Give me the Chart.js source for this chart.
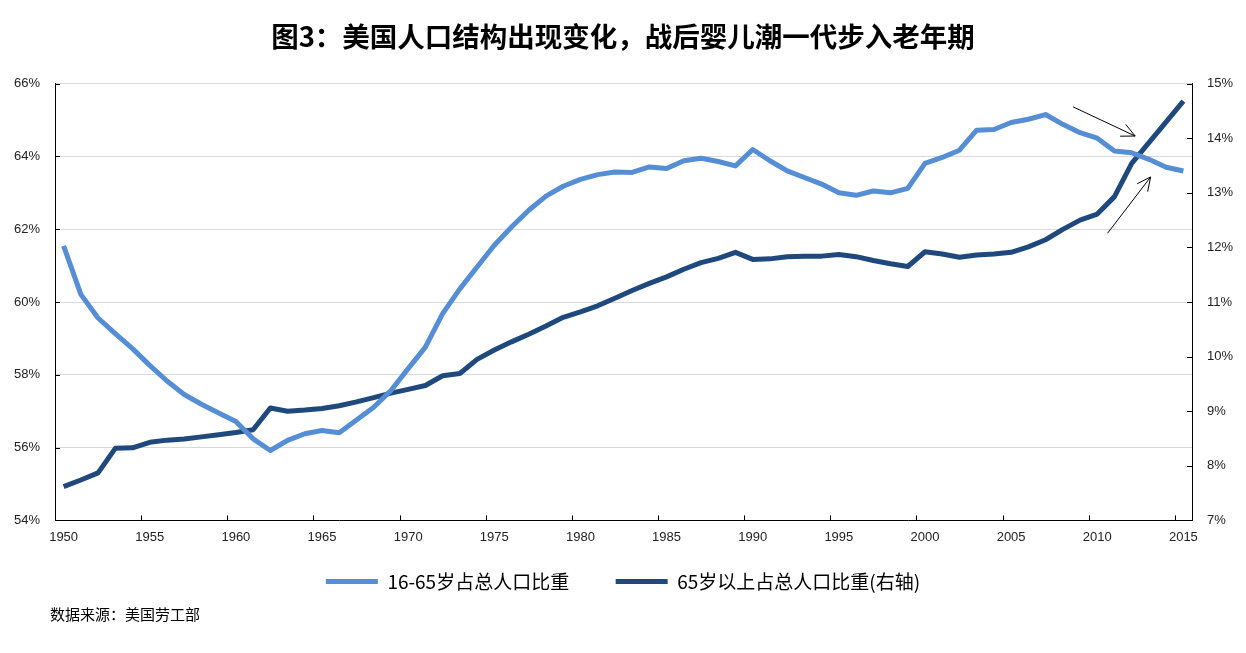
<!DOCTYPE html>
<html>
<head>
<meta charset="utf-8">
<script src="https://cdn.jsdelivr.net/npm/chart.js@4.4.1/dist/chart.umd.min.js"></script>
<style>
  html, body { margin: 0; padding: 0; background: #fff; }
  #wrap { width: 1246px; height: 653px; position: relative; }
</style>
</head>
<body>
<div id="wrap"><canvas id="popChart" width="1246" height="653"></canvas></div>
<script>
// Năm 1950 - 2015 (danh mục trục X)
const years = [];
for (let y = 1950; y <= 2015; y++) years.push(String(y));

// 16-65岁占总人口比重 (%), trục trái
const workingAge = [
  61.54, 60.21, 59.56, 59.13, 58.72, 58.26, 57.83, 57.46, 57.19, 56.95,
  56.72, 56.24, 55.92, 56.20, 56.38, 56.47, 56.41, 56.76, 57.11, 57.57,
  58.17, 58.76, 59.68, 60.36, 60.96, 61.56, 62.06, 62.52, 62.91, 63.18,
  63.37, 63.50, 63.57, 63.56, 63.71, 63.67, 63.88, 63.95, 63.86, 63.74,
  64.19, 63.88, 63.60, 63.42, 63.24, 63.00, 62.93, 63.05, 63.00, 63.12,
  63.81, 63.97, 64.17, 64.72, 64.74, 64.93, 65.02, 65.15, 64.88, 64.65,
  64.50, 64.15, 64.10, 63.92, 63.70, 63.60
];

// 65岁以上占总人口比重 (%), trục phải
const elderly = [
  7.62, 7.74, 7.87, 8.32, 8.33, 8.43, 8.47, 8.49, 8.53, 8.57,
  8.61, 8.66, 9.06, 9.00, 9.02, 9.05, 9.10, 9.17, 9.25, 9.33,
  9.40, 9.47, 9.65, 9.69, 9.95, 10.12, 10.27, 10.41, 10.56, 10.72,
  10.82, 10.93, 11.07, 11.21, 11.34, 11.46, 11.60, 11.72, 11.80, 11.91,
  11.78, 11.79, 11.83, 11.84, 11.84, 11.87, 11.83, 11.76, 11.70, 11.65,
  11.92, 11.88, 11.82, 11.86, 11.88, 11.91, 12.01, 12.14, 12.33, 12.50,
  12.61, 12.93, 13.54, 13.92, 14.30, 14.68
];

const seriesNames = ["16-65岁占总人口比重", "65岁以上占总人口比重(右轴)"];
const titleText = "图3：美国人口结构出现变化，战后婴儿潮一代步入老年期";
const sourceText = "数据来源：美国劳工部";

// Mũi tên chú thích: [năm, giá trị] theo trục tương ứng
const arrows = [
  { from: [2008.6, 65.36], to: [2012.2, 64.56], axis: "yL" },
  { from: [2010.6, 12.26], to: [2013.1, 13.29], axis: "yR" },
];

const lightBlue = "#558ED5";
const darkBlue = "#1F497D";
const tickFont = { family: "'Liberation Sans', Arial, sans-serif", size: 13 };
const cjkFont = "'Noto Sans CJK SC', 'Noto Sans', sans-serif";

// Plugin vẽ vạch chia hướng vào trong, mũi tên và dòng nguồn dữ liệu
const extrasPlugin = {
  id: "extras",
  afterDatasetsDraw(chart) {
    const { ctx, chartArea, scales } = chart;
    const len = 5;
    ctx.save();
    ctx.strokeStyle = "#000";
    ctx.lineWidth = 1;
    ctx.beginPath();
    scales.yL.ticks.forEach((t) => {
      const y = Math.round(scales.yL.getPixelForValue(t.value)) + 0.5;
      ctx.moveTo(chartArea.left, y);
      ctx.lineTo(chartArea.left + len, y);
    });
    scales.yR.ticks.forEach((t) => {
      const y = Math.round(scales.yR.getPixelForValue(t.value)) + 0.5;
      ctx.moveTo(chartArea.right, y);
      ctx.lineTo(chartArea.right - len, y);
    });
    for (let i = 5; i < years.length; i += 5) {
      const x = Math.round(scales.x.getPixelForValue(i - 0.5)) + 0.5;
      ctx.moveTo(x, chartArea.bottom);
      ctx.lineTo(x, chartArea.bottom - len);
    }
    ctx.stroke();

    // mũi tên
    arrows.forEach((a) => {
      const ys = scales[a.axis];
      const x1 = scales.x.getPixelForValue(a.from[0] - 1950);
      const y1 = ys.getPixelForValue(a.from[1]);
      const x2 = scales.x.getPixelForValue(a.to[0] - 1950);
      const y2 = ys.getPixelForValue(a.to[1]);
      const ang = Math.atan2(y2 - y1, x2 - x1);
      const head = 15;
      ctx.beginPath();
      ctx.moveTo(x1, y1);
      ctx.lineTo(x2, y2);
      ctx.moveTo(x2 - head * Math.cos(ang - 0.45), y2 - head * Math.sin(ang - 0.45));
      ctx.lineTo(x2, y2);
      ctx.lineTo(x2 - head * Math.cos(ang + 0.45), y2 - head * Math.sin(ang + 0.45));
      ctx.stroke();
    });

    // nguồn dữ liệu
    ctx.fillStyle = "#000";
    ctx.font = "15px " + cjkFont;
    ctx.textAlign = "left";
    ctx.textBaseline = "middle";
    ctx.fillText(sourceText, 50, 614);
    ctx.restore();
  },
};

const ctx = document.getElementById("popChart").getContext("2d");
new Chart(ctx, {
  type: "line",
  data: {
    labels: years,
    datasets: [
      {
        label: seriesNames[0],
        data: workingAge,
        yAxisID: "yL",
        borderColor: lightBlue,
        backgroundColor: lightBlue,
        borderWidth: 5,
        pointRadius: 0,
        tension: 0,
        borderJoinStyle: "round",
      },
      {
        label: seriesNames[1],
        data: elderly,
        yAxisID: "yR",
        borderColor: darkBlue,
        backgroundColor: darkBlue,
        borderWidth: 5,
        pointRadius: 0,
        tension: 0,
        borderJoinStyle: "round",
      },
    ],
  },
  options: {
    responsive: false,
    animation: false,
    layout: { padding: { left: 0, right: 0, top: 0, bottom: 52 } },
    plugins: {
      title: {
        display: true,
        text: titleText,
        color: "#000",
        font: { family: cjkFont, size: 27.5, weight: "bold" },
        padding: { top: 20, bottom: 30.6 },
      },
      legend: {
        position: "bottom",
        labels: {
          boxWidth: 52,
          boxHeight: 5,
          padding: 18,
          color: "#000",
          font: { family: cjkFont, size: 19 },
          // bỏ viền ô chú giải, thêm khoảng cách sau mục đầu
          generateLabels: (chart) =>
            Chart.defaults.plugins.legend.labels
              .generateLabels(chart)
              .map((item, i) => ({
                ...item,
                lineWidth: 0,
                text: i === 0 ? item.text + "\u2003\u2002" : item.text,
              })),
        },
      },
      tooltip: { enabled: false },
    },
    scales: {
      x: {
        offset: true,
        grid: { display: true, color: "rgba(0,0,0,0)", drawTicks: false, offset: true },
        border: { display: true, color: "#000", width: 1 },
        ticks: {
          autoSkip: false,
          maxRotation: 0,
          padding: 9,
          color: "#222",
          font: tickFont,
          callback: (v, i) => (i % 5 === 0 ? years[i] : ""),
        },
      },
      yL: {
        position: "left",
        min: 54,
        max: 66,
        grid: { color: "#d9d9d9", drawTicks: false },
        border: { display: true, color: "#000", width: 1 },
        ticks: {
          stepSize: 2,
          padding: 15,
          color: "#222",
          font: tickFont,
          callback: (v) => v + "%",
        },
        afterFit: (s) => { s.width = 55; },
      },
      yR: {
        position: "right",
        min: 7,
        max: 15,
        grid: { display: true, color: "rgba(0,0,0,0)", drawTicks: false },
        border: { display: true, color: "#000", width: 1 },
        ticks: {
          stepSize: 1,
          padding: 15,
          color: "#222",
          font: tickFont,
          callback: (v) => v + "%",
        },
        afterFit: (s) => { s.width = 54; },
      },
    },
  },
  plugins: [extrasPlugin],
});
</script>
</body>
</html>
